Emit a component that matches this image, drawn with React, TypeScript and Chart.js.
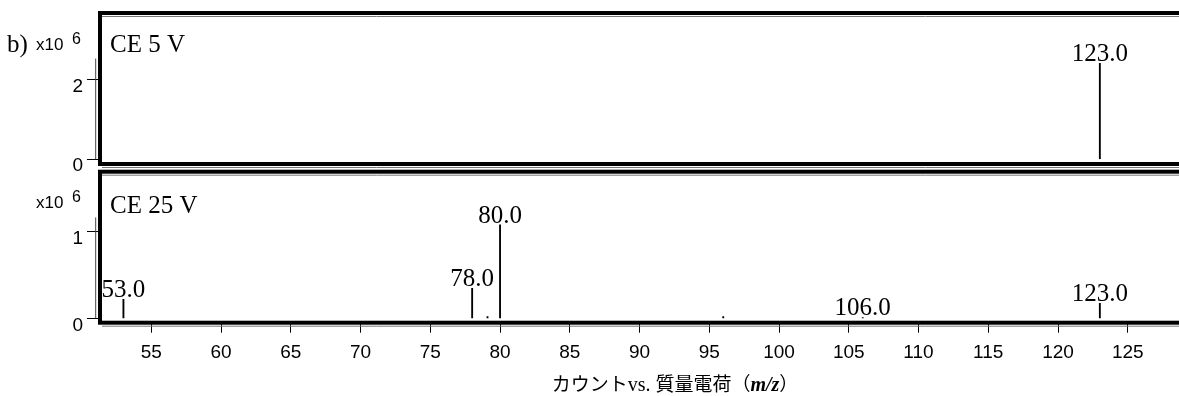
import React, { useEffect, useRef } from "react";
import { Chart, registerables } from "chart.js";

Chart.register(...registerables);

// ---- data ----
const xTickValues = [55, 60, 65, 70, 75, 80, 85, 90, 95, 100, 105, 110, 115, 120, 125];

const topMz = [123.0];
const topCounts = [2420000];
const topPeakLabels = ["123.0"];
const topYTicks = [0, 2000000];

const bottomMz = [53.0, 78.0, 79.1, 80.0, 96.0, 106.0, 123.0];
const bottomCounts = [220000, 346000, 20000, 1077000, 20000, 10000, 173000];
const bottomPeakLabels = ["53.0", "78.0", "", "80.0", "", "106.0", "123.0"];
const bottomYTicks = [0, 1000000];

const panelLetter = "b)";
const panelTitles = ["CE 5 V", "CE 25 V"];
const exponentText = "x10";
const exponentPower = "6";
const xTitleParts = ["カウント", "vs. ", "質量電荷（", "m/z", "）"];

// ---- layout constants ----
const X_MIN = 51.32;
const X_MAX = 130.18;
const CANVAS_W = 1200;
const TOP_H = 185;
const BOTTOM_TOP = 166;
const BOTTOM_H = 230;

const SERIF = '"Liberation Serif", "DejaVu Serif", serif';
const SANS = '"Liberation Sans", Arial, sans-serif';
const CJK = '"Noto Sans CJK JP", sans-serif';

function boxPlugin(axisMax: number) {
  return {
    id: "box",
    afterDraw(chart: any) {
      const { ctx, chartArea: a } = chart;
      const y = chart.scales.y;
      ctx.save();
      ctx.strokeStyle = "#444";
      ctx.lineWidth = 1;
      ctx.beginPath();
      ctx.moveTo(a.left - 4.3, y.getPixelForValue(axisMax));
      ctx.lineTo(a.left - 4.3, y.getPixelForValue(0));
      ctx.stroke();
      ctx.strokeStyle = "#000";
      ctx.lineWidth = 4;
      ctx.strokeRect(a.left, a.top, a.right - a.left, a.bottom - a.top);
      ctx.strokeStyle = "#777";
      ctx.lineWidth = 1;
      ctx.beginPath();
      ctx.moveTo(a.left + 2, a.top + 3.5);
      ctx.lineTo(a.right, a.top + 3.5);
      ctx.moveTo(a.left + 2, a.bottom + 3.5);
      ctx.lineTo(a.right, a.bottom + 3.5);
      ctx.stroke();
      ctx.restore();
    },
  };
}

function peakLabelPlugin(labels: string[]) {
  return {
    id: "peakLabels",
    afterDatasetsDraw(chart: any) {
      const { ctx } = chart;
      const meta = chart.getDatasetMeta(0);
      ctx.save();
      ctx.fillStyle = "#000";
      ctx.font = `25px ${SERIF}`;
      ctx.textAlign = "center";
      ctx.textBaseline = "alphabetic";
      meta.data.forEach((el: any, i: number) => {
        if (!labels[i]) return;
        ctx.fillText(labels[i], el.x, el.y - 2);
      });
      ctx.restore();
    },
  };
}

function textPlugin(draw: (ctx: CanvasRenderingContext2D, chart: any) => void) {
  return {
    id: "texts",
    afterDraw(chart: any) {
      const ctx = chart.ctx;
      ctx.save();
      ctx.fillStyle = "#000";
      draw(ctx, chart);
      ctx.restore();
    },
  };
}

function makeConfig(
  mz: number[],
  counts: number[],
  yTicks: number[],
  yMin: number,
  yMax: number,
  showX: boolean,
  padding: any,
  plugins: any[]
): any {
  return {
    type: "bar",
    data: {
      datasets: [
        {
          data: mz.map((x, i) => ({ x, y: counts[i] })),
          backgroundColor: "#000",
          borderWidth: 0,
          barThickness: 1.2,
          grouped: false,
        },
      ],
    },
    options: {
      responsive: false,
      animation: false,
      devicePixelRatio: 1,
      layout: { padding },
      plugins: { legend: { display: false }, tooltip: { enabled: false } },
      scales: {
        x: {
          type: "linear",
          min: X_MIN,
          max: X_MAX,
          offset: false,
          display: showX,
          grid: {
            offset: false,
            drawOnChartArea: false,
            drawTicks: true,
            tickLength: 10,
            color: "#000",
            lineWidth: 1,
          },
          border: { display: false },
          ticks: {
            autoSkip: false,
            maxRotation: 0,
            padding: 9,
            color: "#000",
            font: { family: SANS, size: 19 },
          },
          afterBuildTicks: (s: any) => {
            s.ticks = xTickValues.map((v) => ({ value: v }));
          },
          afterFit: (s: any) => {
            if (showX) s.height = 73.3;
            s.paddingLeft = 0;
            s.paddingRight = 0;
          },
        },
        y: {
          type: "linear",
          min: yMin,
          max: yMax,
          grid: {
            drawOnChartArea: false,
            drawTicks: true,
            tickLength: 13,
            color: "#000",
            lineWidth: 1,
          },
          border: { display: false },
          ticks: {
            padding: 4,
            labelOffset: 7,
            color: "#000",
            font: { family: SANS, size: 19 },
            callback: (v: number) => String(v / 1000000),
          },
          afterBuildTicks: (s: any) => {
            s.ticks = yTicks.map((v) => ({ value: v }));
          },
          afterFit: (s: any) => {
            s.width = 100;
            s.paddingTop = 0;
            s.paddingBottom = 0;
          },
        },
      },
    },
    plugins,
  };
}

function drawExponent(ctx: CanvasRenderingContext2D, x: number, base: number) {
  ctx.font = `17px ${SANS}`;
  ctx.textAlign = "left";
  ctx.textBaseline = "alphabetic";
  ctx.fillText(exponentText, x, base);
  ctx.font = `16px ${SANS}`;
  ctx.fillText(exponentPower, x + 36, base - 6);
}

export default function App() {
  const topRef = useRef<HTMLCanvasElement>(null);
  const bottomRef = useRef<HTMLCanvasElement>(null);

  useEffect(() => {
    const topChart = new Chart(
      topRef.current as HTMLCanvasElement,
      makeConfig(topMz, topCounts, topYTicks, -120000, 3690000, false, { top: 13, bottom: TOP_H - 164, left: 0, right: 0 }, [
        peakLabelPlugin(topPeakLabels),
        boxPlugin(Math.max(...topCounts) * 1.05),
        textPlugin((ctx) => {
          ctx.font = `25px ${SERIF}`;
          ctx.textAlign = "left";
          ctx.fillText(panelLetter, 7, 52);
          drawExponent(ctx, 36, 50);
          ctx.font = `25px ${SERIF}`;
          ctx.fillText(panelTitles[0], 110, 52);
        }),
      ])
    );
    const bottomChart = new Chart(
      bottomRef.current as HTMLCanvasElement,
      makeConfig(bottomMz, bottomCounts, bottomYTicks, -50000, 1690000, true, { top: 5.7, bottom: 0, left: 0, right: 0 }, [
        peakLabelPlugin(bottomPeakLabels),
        boxPlugin(Math.max(...bottomCounts) * 1.08),
        textPlugin((ctx) => {
          drawExponent(ctx, 36, 208 - BOTTOM_TOP);
          ctx.font = `25px ${SERIF}`;
          ctx.textAlign = "left";
          ctx.fillText(panelTitles[1], 110, 213 - BOTTOM_TOP);
          const fonts = [
            `19px ${CJK}`,
            `20px ${SERIF}`,
            `19px ${CJK}`,
            `italic bold 20px ${SERIF}`,
            `19px ${CJK}`,
          ];
          let total = 0;
          const widths = xTitleParts.map((p, i) => {
            ctx.font = fonts[i];
            const w = ctx.measureText(p).width;
            total += w;
            return w;
          });
          let x = 675 - total / 2;
          const base = 391 - BOTTOM_TOP;
          xTitleParts.forEach((p, i) => {
            ctx.font = fonts[i];
            ctx.fillText(p, x, base);
            x += widths[i];
          });
        }),
      ])
    );
    return () => {
      topChart.destroy();
      bottomChart.destroy();
    };
  }, []);

  return (
    <div
      style={{
        position: "absolute",
        left: 0,
        top: 0,
        width: 1179,
        height: 396,
        overflow: "hidden",
        background: "#fff",
      }}
    >
      <canvas
        ref={bottomRef}
        width={CANVAS_W}
        height={BOTTOM_H}
        style={{ position: "absolute", left: 0, top: BOTTOM_TOP, width: CANVAS_W, height: BOTTOM_H }}
      />
      <canvas
        ref={topRef}
        width={CANVAS_W}
        height={TOP_H}
        style={{ position: "absolute", left: 0, top: 0, width: CANVAS_W, height: TOP_H }}
      />
    </div>
  );
}
